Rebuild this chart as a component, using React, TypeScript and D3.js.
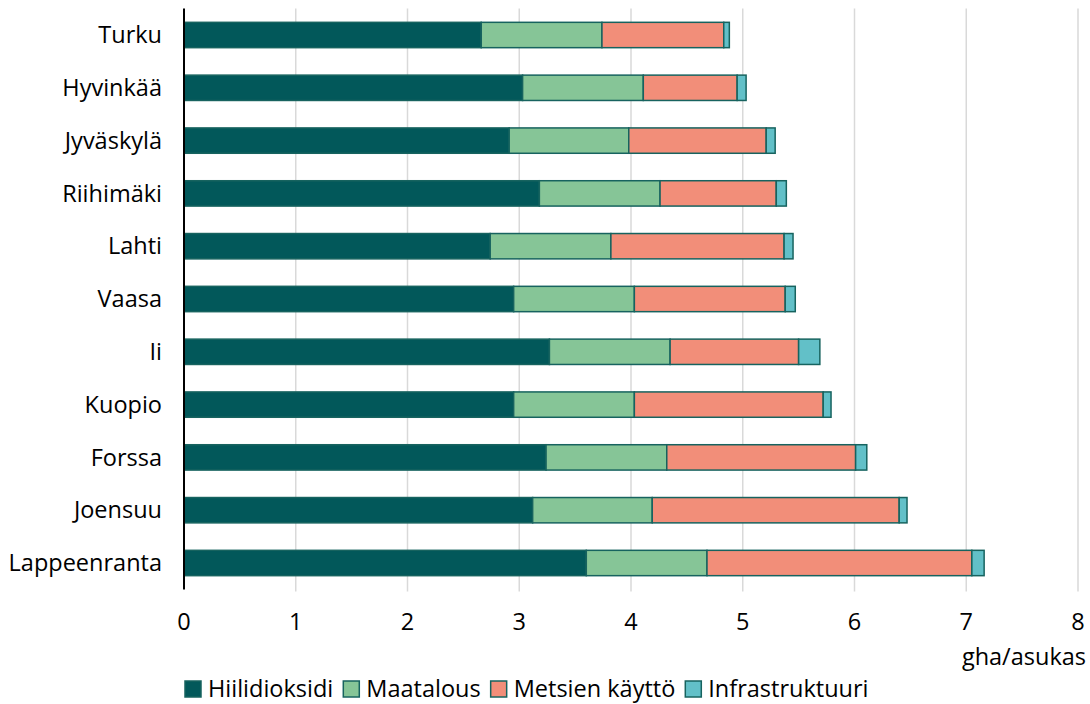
import React, { useEffect, useRef } from "react";
import * as d3 from "d3";

const cities = ["Turku", "Hyvinkää", "Jyväskylä", "Riihimäki", "Lahti", "Vaasa", "Ii", "Kuopio", "Forssa", "Joensuu", "Lappeenranta"];
const seriesNames = ["Hiilidioksidi", "Maatalous", "Metsien käyttö", "Infrastruktuuri"];
const hiilidioksidi = [2.66, 3.03, 2.91, 3.18, 2.74, 2.95, 3.27, 2.95, 3.24, 3.12, 3.60];
const maatalous = [1.08, 1.08, 1.07, 1.08, 1.08, 1.08, 1.08, 1.08, 1.08, 1.07, 1.08];
const metsienKaytto = [1.09, 0.84, 1.23, 1.04, 1.55, 1.35, 1.15, 1.69, 1.69, 2.21, 2.37];
const infrastruktuuri = [0.05, 0.08, 0.08, 0.09, 0.08, 0.09, 0.19, 0.07, 0.10, 0.07, 0.11];
const xTicks = [0, 1, 2, 3, 4, 5, 6, 7, 8];
const unitLabel = "gha/asukas";

const colors = ["#02585a", "#86c597", "#f28e79", "#62c0c8"];
const strokeColor = "#17635f";
const FONT = "'Open Sans', Lato, sans-serif";
const FS = 23.5;

export default function App() {
  const ref = useRef<SVGSVGElement | null>(null);

  useEffect(() => {
    const svg = d3.select(ref.current);
    svg.selectAll("*").remove();
    const left = 184, right = 1078, top = 8.6, bottom = 589.4;

    const x = d3.scaleLinear().domain([0, 8]).range([left, right]);
    const y = d3.scaleBand().domain(cities).range([top, bottom]).paddingInner(0.52).paddingOuter(0.26);

    const rows = cities.map((c, i) => ({
      city: c,
      Hiilidioksidi: hiilidioksidi[i],
      Maatalous: maatalous[i],
      "Metsien käyttö": metsienKaytto[i],
      Infrastruktuuri: infrastruktuuri[i],
    }));
    const stacked = d3.stack<any>().keys(seriesNames)(rows);

    // gridlines
    svg.append("g")
      .selectAll("line")
      .data(xTicks.filter((t) => t > 0))
      .join("line")
      .attr("x1", (d) => x(d)).attr("x2", (d) => x(d))
      .attr("y1", top).attr("y2", bottom + 2)
      .attr("stroke", "#d9d9d9").attr("stroke-width", 1.5);

    // bars
    const g = svg.append("g");
    stacked.forEach((layer, li) => {
      g.append("g")
        .selectAll("rect")
        .data(layer)
        .join("rect")
        .attr("x", (d: any) => x(d[0]))
        .attr("width", (d: any) => x(d[1]) - x(d[0]))
        .attr("y", (d: any) => y(d.data.city)!)
        .attr("height", y.bandwidth())
        .attr("fill", colors[li])
        .attr("stroke", strokeColor)
        .attr("stroke-width", 1.5);
    });

    // axis line
    svg.append("line")
      .attr("x1", left).attr("x2", left)
      .attr("y1", top).attr("y2", bottom)
      .attr("stroke", "#000").attr("stroke-width", 2);

    // category labels
    svg.append("g")
      .selectAll("text")
      .data(cities)
      .join("text")
      .attr("x", left - 22)
      .attr("y", (d) => y(d)! + y.bandwidth() / 2)
      .attr("dy", "0.35em")
      .attr("text-anchor", "end")
      .attr("font-family", FONT)
      .attr("font-size", FS)
      .attr("fill", "#000")
      .text((d) => d);

    // tick labels
    svg.append("g")
      .selectAll("text")
      .data(xTicks)
      .join("text")
      .attr("x", (d) => x(d))
      .attr("y", 630)
      .attr("text-anchor", "middle")
      .attr("font-family", FONT)
      .attr("font-size", FS)
      .attr("fill", "#000")
      .text((d) => String(d));

    svg.append("text")
      .attr("x", 1086)
      .attr("y", 665)
      .attr("text-anchor", "end")
      .attr("font-family", FONT)
      .attr("font-size", FS)
      .attr("fill", "#000")
      .text(unitLabel);

    // legend
    const lg = svg.append("g");
    let cx = 185;
    seriesNames.forEach((name, i) => {
      lg.append("rect")
        .attr("x", cx).attr("y", 681)
        .attr("width", 16).attr("height", 16)
        .attr("fill", colors[i])
        .attr("stroke", strokeColor).attr("stroke-width", 1.5);
      const t = lg.append("text")
        .attr("x", cx + 23)
        .attr("y", 697)
        .attr("font-family", FONT)
        .attr("font-size", FS)
        .attr("fill", "#000")
        .text(name);
      const w = (t.node() as SVGTextElement).getComputedTextLength();
      cx = cx + 23 + w + 10;
    });
  }, []);

  return (
    <svg
      ref={ref}
      width={1090}
      height={704}
      style={{ position: "absolute", left: 0, top: 0, background: "#fff" }}
    />
  );
}
